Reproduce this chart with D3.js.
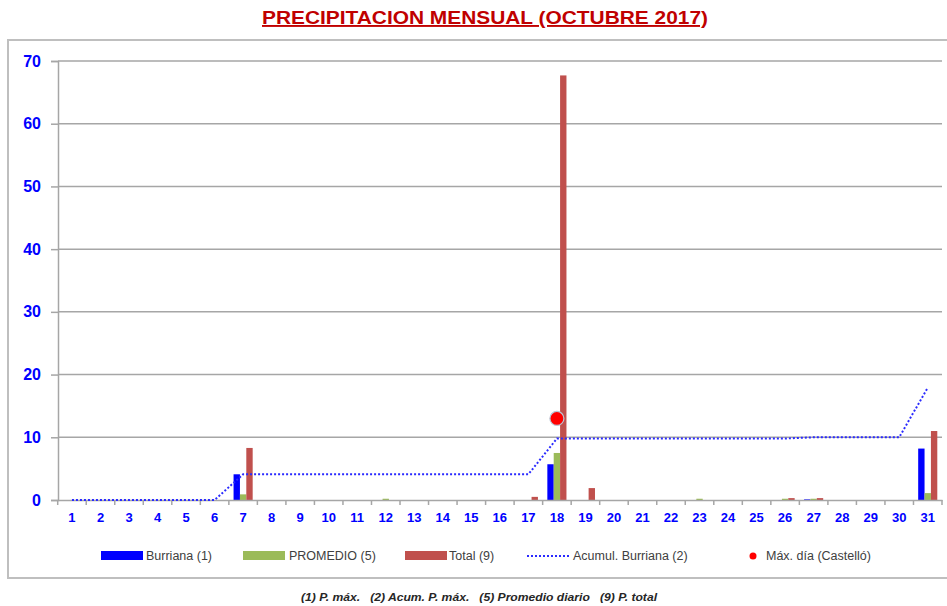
<!DOCTYPE html>
<html><head><meta charset="utf-8">
<script src="https://cdn.jsdelivr.net/npm/d3@7"></script>
<style>body{margin:0;background:#fff}svg{display:block}</style>
</head><body>
<script>
const days = d3.range(1, 32).map(String);
const yTicks = [0,10,20,30,40,50,60,70];
const burriana = [0,0,0,0,0,0,4.1,0,0,0,0,0,0,0,0,0,0,5.7,0,0,0,0,0,0,0,0,0.1,0,0,0,8.2];
const promedio = [0,0,0,0,0,0,0.9,0,0,0,0,0.2,0,0,0,0,0,7.5,0,0,0,0,0.2,0,0,0.2,0.2,0,0,0,1.1];
const total    = [0,0,0,0,0,0,8.3,0,0,0,0,0,0,0,0,0,0.5,67.7,1.9,0,0,0,0,0,0,0.3,0.3,0,0,0,11.0];
const acumul   = [0,0,0,0,0,0,4.1,4.1,4.1,4.1,4.1,4.1,4.1,4.1,4.1,4.1,4.1,9.8,9.8,9.8,9.8,9.8,9.8,9.8,9.8,9.8,10.0,10.0,10.0,10.0,17.9];
const maxDay = [{day:"18", value:13.0}];
const seriesNames = ["Burriana (1)","PROMEDIO (5)","Total (9)"];
const seriesColors = ["#0000ff","#9bbb59","#c0504d"];

const W=947,H=606;
const svg=d3.select("body").append("svg").attr("width",W).attr("height",H);

// title
svg.append("text").attr("x",485).attr("y",24).attr("text-anchor","middle")
 .attr("font-family","'Liberation Sans Narrow','Liberation Sans',sans-serif").attr("font-weight","bold")
 .attr("font-size",19).attr("fill","#c00000").attr("text-decoration","underline")
 .attr("textLength",446).attr("lengthAdjust","spacingAndGlyphs")
 .text("PRECIPITACION MENSUAL (OCTUBRE 2017)");

// frame
svg.append("rect").attr("x",8).attr("y",40).attr("width",960).attr("height",538)
 .attr("fill","none").attr("stroke","#bfbfbf").attr("stroke-width",2);

const x=d3.scaleBand().domain(days).range([57.7,942]).paddingInner(0.33).paddingOuter(0.165);
const y=d3.scaleLinear().domain([0,70]).range([500,61]);
const xs=d3.scaleBand().domain(seriesNames).range([0,x.bandwidth()]);
const step=x.step();
const cx=d=>x(d)+x.bandwidth()/2;

// gridlines
svg.append("g").selectAll("line").data(yTicks.filter(t=>t>0)).join("line")
 .attr("x1",58).attr("x2",942).attr("y1",d=>y(d)).attr("y2",d=>y(d))
 .attr("stroke","#a6a6a6").attr("stroke-width",1.5);

// y axis
const ya=svg.append("g").attr("transform","translate(58,0)")
 .call(d3.axisLeft(y).tickValues(yTicks).tickSize(7).tickPadding(10));
ya.select(".domain").attr("stroke","#a6a6a6").attr("stroke-width",1.5);
ya.selectAll(".tick line").attr("stroke","#a6a6a6").attr("stroke-width",1.5);
ya.selectAll("text").attr("fill","#0000ff").attr("font-weight","bold").attr("font-size",16)
 .attr("font-family","'Liberation Sans',sans-serif");

// bars
const seriesData=[burriana,promedio,total];
seriesData.forEach((arr,i)=>{
  svg.append("g").selectAll("rect").data(arr.map((v,j)=>({day:days[j],v}))).join("rect")
   .attr("x",d=>x(d.day)+xs(seriesNames[i])).attr("width",xs.bandwidth())
   .attr("y",d=>y(d.v)).attr("height",d=>y(0)-y(d.v)).attr("fill",seriesColors[i]);
});

// x axis
const xa=svg.append("g").attr("transform","translate(0,500)")
 .call(d3.axisBottom(x).tickSize(0).tickPadding(13));
xa.select(".domain").attr("stroke","#a6a6a6").attr("stroke-width",1.5);
xa.selectAll("text").attr("fill","#0000ff").attr("font-weight","bold").attr("font-size",13)
 .attr("font-family","'Liberation Sans',sans-serif");
svg.append("g").selectAll("line").data(d3.range(32)).join("line")
 .attr("x1",i=>x.range()[0]+i*step).attr("x2",i=>x.range()[0]+i*step)
 .attr("y1",500).attr("y2",505).attr("stroke","#a6a6a6").attr("stroke-width",1.5);

// accumulation line
svg.append("path").datum(acumul.map((v,j)=>({day:days[j],v})))
 .attr("d",d3.line().x(d=>cx(d.day)).y(d=>y(d.v)))
 .attr("fill","none").attr("stroke","#2a2aff").attr("stroke-width",2).attr("stroke-dasharray","2,2");

// max day point
svg.append("g").selectAll("circle").data(maxDay).join("circle")
 .attr("cx",d=>cx(d.day)).attr("cy",d=>y(d.value)).attr("r",7)
 .attr("fill","#ff0000").attr("stroke","#b9c7d6").attr("stroke-width",1.2);

// legend
const lf="'Liberation Sans Narrow','Liberation Sans',sans-serif";
const lg=svg.append("g");
const legY=556;
const sw=[{x:101,tx:146,w:124},{x:243,tx:289,w:86},{x:405,tx:449,w:50}];
sw.forEach((s,i)=>{
  lg.append("rect").attr("x",s.x).attr("y",legY-5).attr("width",42).attr("height",9).attr("fill",seriesColors[i]);
  lg.append("text").attr("x",s.tx).attr("y",legY+4).attr("font-family",lf).attr("font-size",12.5)
   .attr("fill","#404040").text(seriesNames[i]);
});
lg.append("line").attr("x1",527).attr("x2",569).attr("y1",legY).attr("y2",legY)
 .attr("stroke","#2a2aff").attr("stroke-width",2).attr("stroke-dasharray","2,2");
lg.append("text").attr("x",573).attr("y",legY+4).attr("font-family",lf).attr("font-size",12.5)
 .attr("fill","#404040").text("Acumul. Burriana (2)");
lg.append("circle").attr("cx",753).attr("cy",legY).attr("r",3.5).attr("fill","#ff0000");
lg.append("text").attr("x",766).attr("y",legY+4).attr("font-family",lf).attr("font-size",12.5)
 .attr("fill","#404040").text("Máx. día (Castelló)");

// footnote
svg.append("text").attr("x",479).attr("y",601).attr("text-anchor","middle")
 .attr("font-family",lf).attr("font-style","italic").attr("font-weight","bold").attr("font-size",11)
 .attr("fill","#262626").attr("textLength",356).attr("lengthAdjust","spacingAndGlyphs")
 .attr("xml:space","preserve")
 .text("(1) P. máx.   (2) Acum. P. máx.   (5) Promedio diario   (9) P. total");
</script>
</body></html>
